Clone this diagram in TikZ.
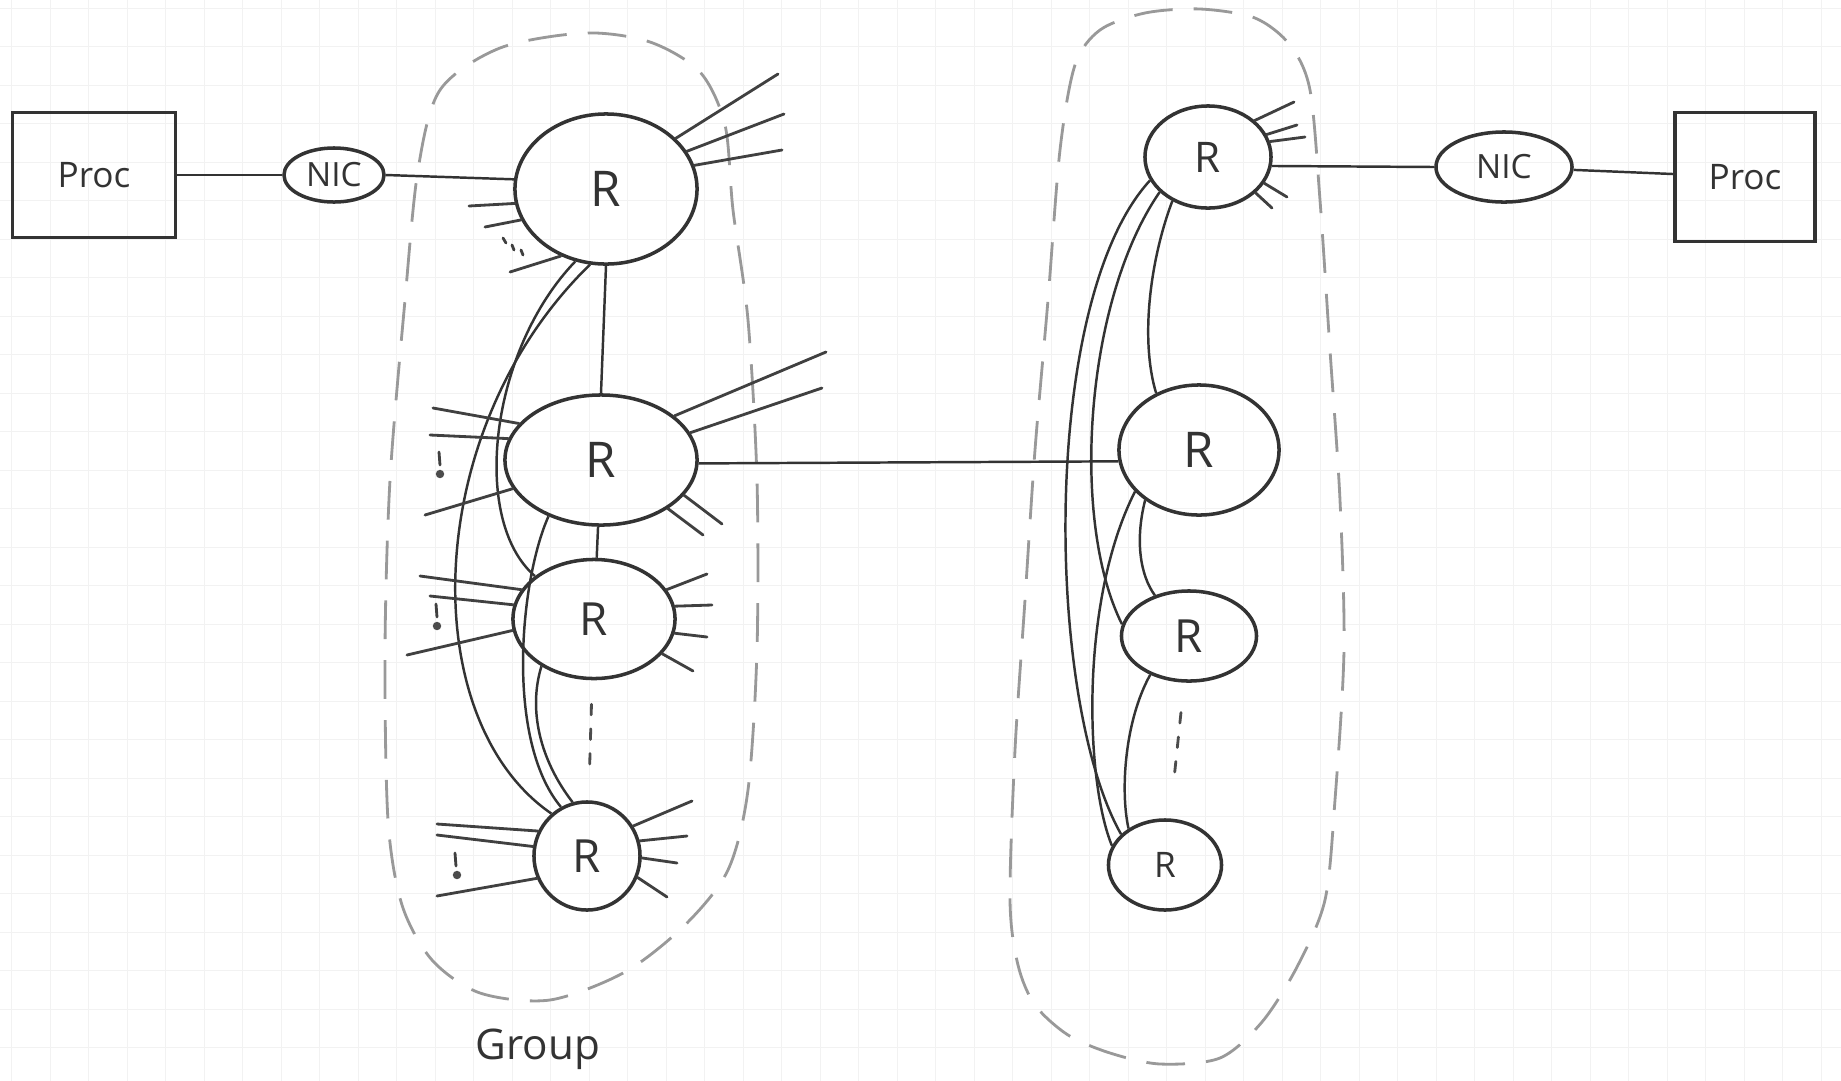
\documentclass[tikz,border=0pt]{standalone}
\usepackage{fontspec}
\setmainfont{Open Sans}
\usetikzlibrary{shapes.geometric}

\begin{document}
\begin{tikzpicture}[x=0.01cm, y=-0.01cm,
		every node/.style={text=black!80},
		rt/.style 2 args={ellipse, draw=black!80, line width=1pt, inner sep=0pt, minimum width=#1, minimum height=#2, font=\fontsize{13}{13}\selectfont},
		nic/.style 2 args={ellipse, draw=black!80, line width=1pt, inner sep=0pt, minimum width=#1, minimum height=#2, font=\fontsize{9.5}{9.5}\selectfont},
		proc/.style 2 args={rectangle, draw=black!80, line width=1pt, inner sep=0pt, minimum width=#1, minimum height=#2, font=\fontsize{10}{10}\selectfont},
		link/.style={draw=black!80, line width=0.7pt},
		stub/.style={draw=black!75, line width=0.8pt, line cap=round},
		etc/.style={draw=black!70, line width=0.8pt, line cap=round, dash pattern=on 3pt off 4pt},
		grp/.style={draw=black!40, line width=0.8pt, dash pattern=on 11pt off 6pt},
		paper/.style={draw=black!5, line width=0.3pt}]
			\useasboundingbox (0,0) rectangle (1841,1081);
			\fill[white] (0,0) rectangle (1841,1081);
			\foreach \i in {0,...,47} \draw[paper] (11.8+38.5*\i,0) -- (11.8+38.5*\i,1081);
			\foreach \j in {0,...,28} \draw[paper] (0,8.3+38.5*\j) -- (1841,8.3+38.5*\j);

			\draw[grp] plot[smooth cycle] coordinates {(585,33) (650,42) (700,72) (725,125) (733,210) (748,320) (757,480) (757,650) (748,790) (728,870) (685,925) (625,972) (550,1000) (480,993) (432,960) (402,905) (388,820) (385,650) (390,480) (405,300) (418,170) (440,90) (500,48)};
			\draw[grp] plot[smooth cycle] coordinates {(1200,9) (1255,18) (1290,45) (1310,90) (1320,200) (1330,350) (1340,500) (1344,650) (1335,800) (1325,900) (1297,967) (1262,1022) (1220,1058) (1160,1064) (1110,1053) (1068,1035) (1035,1005) (1018,965) (1010,900) (1015,750) (1025,600) (1035,450) (1048,300) (1060,150) (1075,65) (1100,30) (1145,13)};

			\node[proc={1.63cm}{1.25cm}] (pl) at (94,175) {Proc};
			\node[nic={1.00cm}{0.54cm}] (nl) at (334,175) {NIC};
			\node[rt={1.82cm}{1.50cm}, font=\fontsize{14}{14}\selectfont] (a1) at (606,189) {R};
			\node[rt={1.92cm}{1.30cm}, font=\fontsize{14}{14}\selectfont] (a2) at (601,460) {R};
			\node[rt={1.62cm}{1.19cm}] (a3) at (594,619) {R};
			\node[rt={1.06cm}{1.08cm}] (a4) at (587,856) {R};
			\node[rt={1.26cm}{1.02cm}, font=\fontsize{12}{12}\selectfont] (b1) at (1208,157) {R};
			\node[nic={1.36cm}{0.70cm}] (nr) at (1504,167) {NIC};
			\node[proc={1.40cm}{1.29cm}] (pr) at (1745,177) {Proc};
			\node[rt={1.60cm}{1.30cm}, font=\fontsize{14}{14}\selectfont] (b2) at (1199,450) {R};
			\node[rt={1.35cm}{0.90cm}] (b3) at (1189,636) {R};
			\node[rt={1.13cm}{0.90cm}, font=\fontsize{10}{10}\selectfont] (b4) at (1165,865) {R};
			\node[font=\fontsize{12}{12}\selectfont] (lbl) at (538,1049) {Group};

			\draw[link] (pl) -- (nl);
			\draw[link] (nl.east) -- (a1.174);
			\draw[link] (a1.south) -- (a2.north);
			\draw[link] (a2) -- (a3);
			\draw[etc, shorten <=0.24cm, shorten >=0.35cm] (a3) -- (a4);
			\draw[link] (a1.258) .. controls (420,430) and (415,720) .. (a4.130);
			\draw[link] (a1.247) .. controls (490,350) and (470,520) .. (a3.144);
			\draw[link] (a2.227) .. controls (520,580) and (505,740) .. (a4.118);
			\draw[link] (a3.222) .. controls (528,710) and (540,760) .. (a4.105);
			\draw[link] (a2.358) -- (b2.188);

			\draw[link] (b1.352) -- (nr.west);
			\draw[link] (nr) -- (pr);
			\draw[link] (b1.231) .. controls (1150,260) and (1140,340) .. (b2.127);
			\draw[link] (b1.216) .. controls (1085,300) and (1070,520) .. (b3.170);
			\draw[link] (b1.202) .. controls (1040,300) and (1045,700) .. (b4.145);
			\draw[link] (b2.223) .. controls (1135,540) and (1140,575) .. (b3.130);
			\draw[link] (b2.213) .. controls (1080,600) and (1085,780) .. (b4.160);
			\draw[link] (b3.225) .. controls (1125,720) and (1120,790) .. (b4.135);
			\draw[etc, shorten <=0.3cm, shorten >=0.35cm] (b3) -- (b4);

			\draw[stub] (a1.36) -- (778,74);
			\draw[stub] (a1.25) -- (784,114);
			\draw[stub] (a1.15) -- (782,150);
			\draw[stub] (a1.189) -- (469,206);
			\draw[stub] (a1.200) -- (485,227);
			\draw[stub] (a1.236) -- (510,272);
			\draw[stub] (503,238) -- (506,243);
			\draw[stub] (512,245) -- (514,250);
			\draw[stub] (521,250) -- (523,255);

			\draw[stub] (a2.156) -- (433,408);
			\draw[stub] (a2.167) -- (430,435);
			\draw[stub] (a2.198) -- (425,515);
			\draw[stub] (a2.31) -- (826,352);
			\draw[stub] (a2.17) -- (822,388);
			\draw[stub] (a2.337) -- (722,524);
			\draw[stub] (a2.324) -- (703,535);
			\draw[stub] (439,452) -- (440,465);
			\fill[black!70] (440,474) circle (1.2pt);

			\draw[stub] (a3.158) -- (420,576);
			\draw[stub] (a3.170) -- (430,596);
			\draw[stub] (a3.188) -- (407,655);
			\draw[stub] (a3.22) -- (707,574);
			\draw[stub] (a3.9) -- (712,605);
			\draw[stub] (a3.350) -- (707,637);
			\draw[stub] (a3.333) -- (693,671);
			\draw[stub] (436,604) -- (437,617);
			\fill[black!70] (437,626) circle (1.2pt);

			\draw[stub] (a4.153) -- (437,824);
			\draw[stub] (a4.170) -- (437,835);
			\draw[stub] (a4.204) -- (437,896);
			\draw[stub] (a4.33) -- (692,801);
			\draw[stub] (a4.16) -- (687,836);
			\draw[stub] (a4.358) -- (677,863);
			\draw[stub] (a4.337) -- (667,897);
			\draw[stub] (455,853) -- (456,866);
			\fill[black!70] (457,875) circle (1.2pt);

			\draw[stub] (b1.38) -- (1294,102);
			\draw[stub] (b1.21) -- (1297,125);
			\draw[stub] (b1.14) -- (1305,137);
			\draw[stub] (b1.335) -- (1287,197);
			\draw[stub] (b1.323) -- (1272,208);
		\end{tikzpicture}
\end{document}
